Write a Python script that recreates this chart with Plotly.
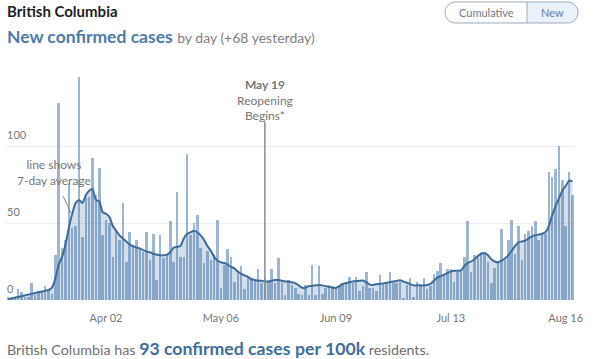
import pandas as pd
import plotly.graph_objects as go

# ---------------- data ----------------
start_date = "2020-03-04"
new_cases = [
    2, 1, 1, 7, 5, 2, 2, 11, 3, 6, 6, 9, 7, 4, 29, 128, 34, 39, 76, 47,
    48, 145, 41, 67, 67, 92, 68, 86,
    42, 52, 50, 28, 45, 39, 63, 25, 44, 35, 39, 34, 31, 44, 26, 43, 13, 42,
    27, 29, 51, 25, 70, 28,
    28, 95, 42,
    50, 55, 34, 24, 32, 26, 30, 52, 8, 23, 33, 28, 12, 18, 22, 7, 15, 14, 13,
    20, 11, 15, 12, 20, 11, 27, 11, 3, 13,
    10, 8, 4, 3, 10, 3, 23, 3, 22, 4, 8, 10, 9, 7, 9, 11, 12, 15, 11, 15,
    6, 9, 18, 8, 8, 6, 16, 11,
    11, 18, 11, 11, 12, 1, 10, 14, 2, 12, 10, 14, 7, 9, 17, 19, 24, 17, 20,
    20, 12, 18, 19, 28, 51, 18, 29, 27, 31,
    30, 25, 11, 21, 24, 46, 26, 39, 52, 30, 48, 26, 43, 45, 48, 51, 39, 43,
    43, 83, 80, 85, 100, 78, 48, 83, 68,
]
avg_7day = [
    0.5, 1, 1.5, 2, 2.5, 3, 3.5, 4, 4.5, 5, 5.5, 6, 6.5, 8, 14, 23, 28, 36,
    47, 56, 63, 65, 63, 68, 71, 72, 65, 64,
    57, 56, 54, 48, 45, 42, 40, 38, 36, 35, 34, 33.5, 32.5, 31.5, 31, 30,
    29.5, 29, 29, 29.5, 31, 34, 34.5, 35,
    40, 43, 44,
    45, 44, 42, 39, 35, 32, 28, 25.5, 24.5, 24, 23, 21.5, 20.5, 18.5, 17, 16,
    15, 13.5, 13, 12.5, 12.5, 12, 12, 12.5, 13, 13, 12.5, 12, 12,
    11.5, 11, 9.5, 8, 8, 9, 9.2, 9.5, 9.7, 9.5, 9, 8.5, 8, 7.8, 9, 10.5, 11,
    11.5, 12, 12.3, 12.5, 12.6, 11.5, 10, 9.8, 10.3, 10.5, 10.8,
    11.2, 11.6, 12, 12.4, 12.8, 12, 11.2, 10.3, 9.5, 9.5, 9.5, 9.5, 9.7, 10.5,
    12.5, 14.5, 15.5, 16.5, 17.5, 18.5, 19, 19, 19.2, 22, 24, 25, 26.5, 28.5, 30,
    30.5, 29, 26.5, 25, 24.5, 25.5, 27, 29, 32, 35, 37.5, 38, 38.5, 40, 41.3,
    42, 42.5, 43, 44, 48, 55, 61, 66, 71, 74, 77.5, 77,
]
tick_dates = ["2020-04-02", "2020-05-06", "2020-06-09", "2020-07-13", "2020-08-16"]
tick_labels = ["Apr 02", "May 06", "Jun 09", "Jul 13", "Aug 16"]
y_labels = [0, 50, 100]
event_date = "2020-05-19"
event_text = "<b>May 19</b><br>Reopening<br>Begins*"
note_text = "line shows<br>7-day average"

dates = pd.date_range(start_date, periods=len(new_cases), freq="D")

# ---------------- geometry helpers ----------------
W, H = 593, 359
L, R, T, B = 5, 18, 60, 59
PW, PH = W - L - R, H - T - B
Y_MAX = PH / 1.54


def px(x):
    return (x - L) / PW


def py(y):
    return (H - B - y) / PH


day_ms = 86400000
x0 = pd.Timestamp(start_date) - pd.Timedelta(days=0.89)
x1 = pd.Timestamp(start_date) + pd.Timedelta(days=167.75)

FONT = "Lato"
fig = go.Figure()
fig.add_trace(go.Bar(
    x=dates, y=new_cases, width=0.74 * day_ms,
    marker=dict(color="rgba(60,110,165,0.5)", line=dict(width=0)),
    hoverinfo="skip",
))
fig.add_trace(go.Scatter(
    x=dates, y=avg_7day, mode="lines", fill="tozeroy",
    fillcolor="rgba(60,110,165,0.22)",
    line=dict(color="#3d6b9a", width=2, shape="spline", smoothing=0.6),
    hoverinfo="skip",
))

annotations = []
for v in y_labels:
    annotations.append(dict(
        x=0, xref="paper", xanchor="left", y=v, yref="y", yanchor="bottom",
        yshift=3, text=str(v), showarrow=False,
        font=dict(family=FONT, size=11, color="#777777"),
    ))

annotations.append(dict(
    x=px(5), y=py(11), xref="paper", yref="paper", xanchor="left",
    yanchor="middle", showarrow=False, text="<b>British Columbia</b>",
    font=dict(family=FONT, size=15, color="#1e1e1e"),
))
annotations.append(dict(
    x=px(5), y=py(37), xref="paper", yref="paper", xanchor="left",
    yanchor="middle", showarrow=False,
    text=("<b>New confirmed cases</b> "
          "<span style='font-size:14px;color:#808080'>by day (+68 yesterday)</span>"),
    font=dict(family=FONT, size=17.5, color="#4d7ba7"),
))

annotations.append(dict(
    x=px(486), y=py(12.5), xref="paper", yref="paper", xanchor="center",
    yanchor="middle", showarrow=False, text="Cumulative",
    font=dict(family=FONT, size=11, color="#6e7a86"),
))
annotations.append(dict(
    x=px(552), y=py(12.5), xref="paper", yref="paper", xanchor="center",
    yanchor="middle", showarrow=False, text="New",
    font=dict(family=FONT, size=11, color="#5f7f9f"),
))

annotations.append(dict(
    x=event_date, xref="x", y=py(99.5), yref="paper", xanchor="center",
    yanchor="middle", showarrow=False, text=event_text,
    font=dict(family=FONT, size=12, color="#777777"),
))

annotations.append(dict(
    x=px(54), y=py(172), xref="paper", yref="paper", xanchor="center",
    yanchor="middle", showarrow=False, text=note_text,
    font=dict(family=FONT, size=12, color="#777777"),
))

annotations.append(dict(
    x=px(5), y=py(348), xref="paper", yref="paper", xanchor="left",
    yanchor="middle", showarrow=False,
    text=("British Columbia has "
          "<b><span style='font-size:17.7px;color:#3f6e9a'>93 confirmed cases per 100k</span></b>"
          " residents."),
    font=dict(family=FONT, size=14.3, color="#6f6f6f"),
))


def rounded_path(xl, xr, yt, yb, r, xd=None):
    k = 0.5523 * r
    yc = (yt + yb) / 2

    def p(x, y):
        return f"{px(x):.5f},{py(y):.5f}"

    right = (f"L{p(xr - r, yt)} C{p(xr - r + k, yt)} {p(xr, yc - k)} {p(xr, yc)} "
             f"C{p(xr, yc + k)} {p(xr - r + k, yb)} {p(xr - r, yb)} ")
    if xd is not None:
        return f"M{p(xd, yt)} " + right + f"L{p(xd, yb)} Z"
    return (f"M{p(xl + r, yt)} " + right +
            f"L{p(xl + r, yb)} C{p(xl + r - k, yb)} {p(xl, yc + k)} {p(xl, yc)} "
            f"C{p(xl, yc - k)} {p(xl + r - k, yt)} {p(xl + r, yt)} Z")


shapes = [
    dict(type="path", xref="paper", yref="paper",
         path=rounded_path(445, 578, 2, 23, 10.5, xd=527),
         fillcolor="#eaf1f8", line=dict(width=0)),
    dict(type="path", xref="paper", yref="paper",
         path=rounded_path(445, 578, 2, 23, 10.5),
         fillcolor="rgba(0,0,0,0)", line=dict(color="#9aaabb", width=1)),
    dict(type="line", xref="paper", yref="paper", x0=px(527), x1=px(527),
         y0=py(2), y1=py(23), line=dict(color="#9aaabb", width=1)),
    dict(type="line", xref="x", yref="y", x0=event_date, x1=event_date,
         y0=0, y1=(300 - 121.5) / 1.54, line=dict(color="#8c8c8c", width=1.5)),
    dict(type="line", xref="paper", yref="paper", x0=px(63), y0=py(196),
         x1=px(71), y1=py(213), line=dict(color="#888888", width=1)),
]

fig.update_layout(
    width=W, height=H, autosize=False,
    margin=dict(l=L, r=R, t=T, b=B, pad=0),
    paper_bgcolor="white", plot_bgcolor="white",
    showlegend=False, bargap=0,
    font=dict(family=FONT, color="#777777"),
    annotations=annotations, shapes=shapes,
    xaxis=dict(
        type="date", range=[x0, x1], showgrid=False, zeroline=False,
        showline=False, ticks="", tickvals=tick_dates, ticktext=tick_labels,
        tickfont=dict(family=FONT, size=11, color="#777777"),
        ticklabelstandoff=10, fixedrange=True,
    ),
    yaxis=dict(
        range=[0, Y_MAX], tickvals=[50, 100], showticklabels=False,
        showgrid=True, gridcolor="#efefef", gridwidth=1, zeroline=False,
        showline=False, fixedrange=True,
    ),
)

fig.write_html(
    "out.html",
    config={"displayModeBar": False},
    post_script="document.body.style.margin='0px';",
)
